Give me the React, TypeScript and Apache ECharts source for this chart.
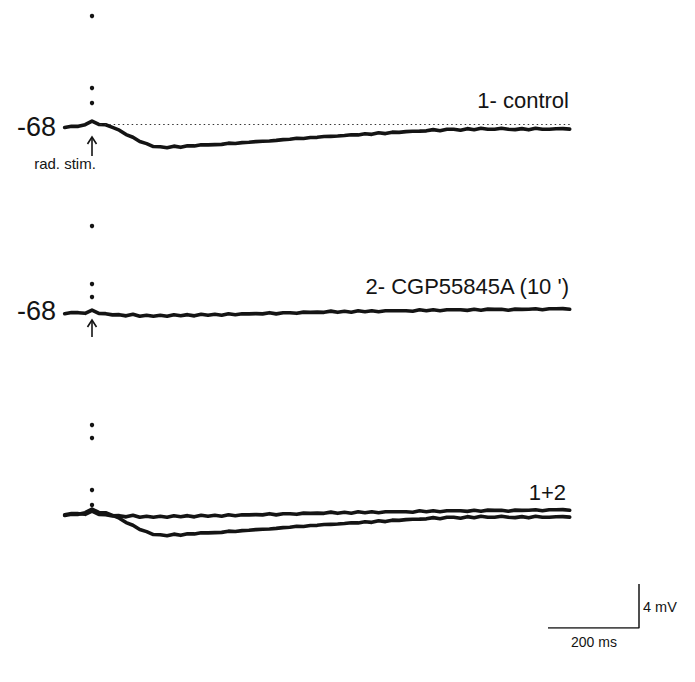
import React, { useEffect, useRef } from "react";
import * as echarts from "echarts";

// Time (ms) relative to the radiatum stimulus
const TIME_MS = [
  -60, -45, -30, -15, 0, 15, 30, 45, 60, 75, 90, 105, 120, 135, 150, 165, 180, 195, 210, 225,
  240, 255, 270, 285, 300, 315, 330, 345, 360, 375, 390, 405, 420, 435, 450, 465, 480, 495, 510, 525,
  540, 555, 570, 585, 600, 615, 630, 645, 660, 675, 690, 705, 720, 735, 750, 765, 780, 795, 810, 825,
  840, 855, 870, 885, 900, 915, 930, 945, 960, 975, 990, 1005, 1020, 1035, 1050,
];

// 1- control membrane potential (mV)
const CONTROL_MV = [
  -68.14, -68.02, -68.03, -67.88, -67.55, -67.86, -67.89, -68.13, -68.38, -68.78,
  -69.02, -69.41, -69.6, -69.87, -69.89, -69.98, -69.83, -69.94, -69.79, -69.81,
  -69.7, -69.72, -69.69, -69.67, -69.56, -69.59, -69.51, -69.48, -69.42, -69.39,
  -69.36, -69.31, -69.24, -69.21, -69.11, -69.13, -69.05, -69.03, -68.96, -68.94,
  -68.91, -68.86, -68.79, -68.81, -68.7, -68.76, -68.61, -68.69, -68.56, -68.58,
  -68.51, -68.48, -68.47, -68.44, -68.33, -68.43, -68.29, -68.3, -68.38, -68.24,
  -68.34, -68.2, -68.3, -68.29, -68.21, -68.3, -68.33, -68.24, -68.35, -68.21,
  -68.3, -68.29, -68.25, -68.24, -68.28,
];

// 2- CGP55845A (10 min) membrane potential (mV)
const CGP_MV = [
  -68.07, -67.96, -67.97, -68.03, -67.73, -68.03, -68.06, -68.17, -68.15, -68.26,
  -68.11, -68.3, -68.2, -68.29, -68.21, -68.3, -68.16, -68.25, -68.15, -68.26,
  -68.11, -68.21, -68.12, -68.2, -68.07, -68.16, -68.07, -68.08, -68.06, -68.08,
  -67.97, -68.08, -67.98, -67.98, -68.03, -67.92, -67.94, -67.92, -67.94, -67.83,
  -67.94, -67.84, -67.93, -67.8, -67.89, -67.79, -67.88, -67.8, -67.8, -67.79,
  -67.8, -67.84, -67.71, -67.8, -67.7, -67.79, -67.71, -67.7, -67.7, -67.76,
  -67.66, -67.75, -67.65, -67.67, -67.66, -67.75, -67.65, -67.67, -67.66, -67.62,
  -67.71, -67.61, -67.62, -67.6, -67.66,
];

// Scale bar (ms, mV)
const SCALE_BAR_MS = [0, 200, 200];
const SCALE_BAR_MV = [0, 0, 4];

const PANEL_LABELS = ["1- control", "2- CGP55845A (10 ')", "1+2"];
const HOLDING_LABEL = "-68";
const STIM_LABEL = "rad. stim.";
const SCALE_LABELS = ["4 mV", "200 ms"];

export default function App() {
  const ref = useRef<HTMLDivElement>(null);

  useEffect(() => {
    const chart = echarts.init(ref.current!, null, { renderer: "svg" });

    const FONT = "'Liberation Sans', Arial, sans-serif";
    const INK = "#141414";
    const X_LEFT = 64.7;
    const X_WIDTH = 505;
    const PX_PER_MV = 11;
    const baselines = [126, 313, 514];
    const ABOVE = 30;
    const BELOW = 40;

    const grids: any[] = baselines.map((b) => ({
      left: X_LEFT,
      width: X_WIDTH,
      top: b - ABOVE,
      height: ABOVE + BELOW,
    }));
    grids.push({ left: 548, width: 91, top: 584, height: 44 });

    const xAxes: any[] = baselines.map((_, i) => ({
      type: "value",
      gridIndex: i,
      min: TIME_MS[0],
      max: TIME_MS[TIME_MS.length - 1],
      show: false,
    }));
    xAxes.push({ type: "value", gridIndex: 3, min: 0, max: 200, show: false });

    const yAxes: any[] = baselines.map((_, i) => ({
      type: "value",
      gridIndex: i,
      min: -68 - BELOW / PX_PER_MV,
      max: -68 + ABOVE / PX_PER_MV,
      show: false,
    }));
    yAxes.push({ type: "value", gridIndex: 3, min: 0, max: 4, show: false });

    const pairs = (ys: number[]) => TIME_MS.map((t, i) => [t, ys[i]]);
    const traceStyle = { color: INK, width: 3.6, join: "round" as const, cap: "round" as const };
    const trace = (ys: number[], idx: number, extra: any = {}) => ({
      type: "line",
      xAxisIndex: idx,
      yAxisIndex: idx,
      data: pairs(ys),
      showSymbol: false,
      symbol: "none",
      silent: true,
      lineStyle: traceStyle,
      ...extra,
    });

    const series: any[] = [
      trace(CONTROL_MV, 0, {
        markLine: {
          silent: true,
          symbol: "none",
          label: { show: false },
          lineStyle: { color: "#333", width: 1.2, type: [1.5, 3] },
          data: [[{ coord: [18, -67.82] }, { coord: [1050, -67.82] }]],
        },
      }),
      trace(CGP_MV, 1),
      trace(CONTROL_MV, 2),
      trace(CGP_MV, 2),
      {
        type: "line",
        xAxisIndex: 3,
        yAxisIndex: 3,
        data: SCALE_BAR_MS.map((t, i) => [t, SCALE_BAR_MV[i]]),
        showSymbol: false,
        symbol: "none",
        silent: true,
        lineStyle: { color: INK, width: 1.5 },
      },
    ];

    const dotYs = [16, 88, 103, 226, 284, 297, 425, 438, 490, 505];
    const dots = dotYs.map((y) => ({
      type: "circle",
      shape: { cx: 92, cy: y, r: 2.2 },
      style: { fill: INK },
      silent: true,
    }));

    const arrow = (yTop: number, yBot: number) => [
      { type: "line", shape: { x1: 92, y1: yTop, x2: 92, y2: yBot }, style: { stroke: INK, lineWidth: 1.6 } },
      {
        type: "polyline",
        shape: { points: [[87.5, yTop + 7], [92, yTop], [96.5, yTop + 7]] },
        style: { stroke: INK, lineWidth: 1.6, fill: "none" },
      },
    ];

    const text = (t: string, x: number, y: number, size: number, align: string) => ({
      type: "text",
      x,
      y,
      style: { text: t, fontSize: size, fontFamily: FONT, fill: INK, align, verticalAlign: "middle" },
      silent: true,
    });

    const graphic: any[] = [
      ...dots,
      ...arrow(137, 156),
      ...arrow(320, 337),
      text(HOLDING_LABEL, 56, 127, 27, "right"),
      text(HOLDING_LABEL, 56, 311, 27, "right"),
      text(STIM_LABEL, 65, 163, 15, "center"),
      text(PANEL_LABELS[0], 569, 100, 22, "right"),
      text(PANEL_LABELS[1], 569, 286, 22, "right"),
      text(PANEL_LABELS[2], 566, 492, 22, "right"),
      text(SCALE_LABELS[0], 643, 607, 14.5, "left"),
      text(SCALE_LABELS[1], 594, 642, 14, "center"),
    ];

    chart.setOption({
      animation: false,
      backgroundColor: "#ffffff",
      grid: grids,
      xAxis: xAxes,
      yAxis: yAxes,
      series,
      graphic,
    });

    return () => chart.dispose();
  }, []);

  return (
    <div
      ref={ref}
      style={{ position: "fixed", left: 0, top: 0, width: 695, height: 682, background: "#fff" }}
    />
  );
}
